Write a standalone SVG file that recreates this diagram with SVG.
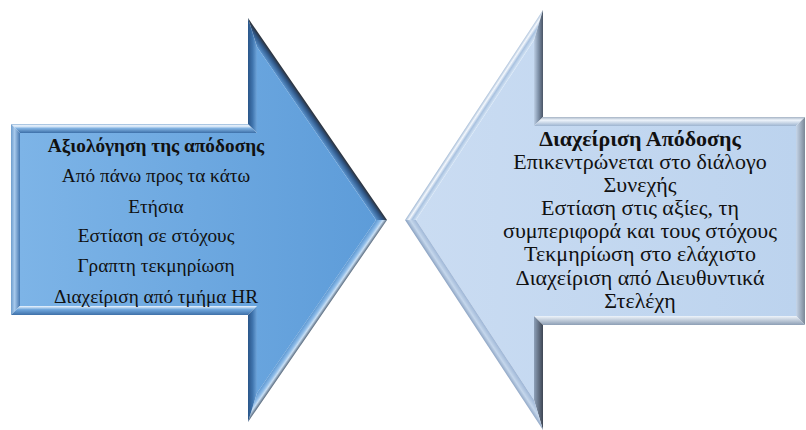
<svg xmlns="http://www.w3.org/2000/svg" width="806" height="430" viewBox="0 0 806 430">
  <style>
    .t { font-family: "Liberation Serif", "Times New Roman", serif; fill: #111; text-anchor: middle; }
    .l { font-size: 19.3px; }
    .r { font-size: 22px; }
    .b { font-weight: bold; }
  </style>
  <defs>
    <!-- left arrow (darker blue) -->
    <linearGradient id="lFill" x1="20" y1="0" x2="376" y2="0" gradientUnits="userSpaceOnUse">
      <stop offset="0" stop-color="#7db4e7"/>
      <stop offset="1" stop-color="#5d9cd9"/>
    </linearGradient>
    <linearGradient id="lTop" x1="0" y1="124" x2="0" y2="133" gradientUnits="userSpaceOnUse">
      <stop offset="0" stop-color="#8fb4d8"/>
      <stop offset="0.2" stop-color="#f2f8ff"/>
      <stop offset="0.5" stop-color="#7fb0e0"/>
      <stop offset="1" stop-color="#3c6fa8"/>
    </linearGradient>
    <linearGradient id="lLeft" x1="11" y1="0" x2="20" y2="0" gradientUnits="userSpaceOnUse">
      <stop offset="0" stop-color="#6d9ccc"/>
      <stop offset="0.4" stop-color="#a7c9ec"/>
      <stop offset="1" stop-color="#4577b0"/>
    </linearGradient>
    <linearGradient id="lBot" x1="0" y1="315" x2="0" y2="306" gradientUnits="userSpaceOnUse">
      <stop offset="0" stop-color="#3e70a8"/>
      <stop offset="0.6" stop-color="#6fa6dc"/>
      <stop offset="1" stop-color="#eef6fe"/>
    </linearGradient>
    <linearGradient id="lNotch" x1="248" y1="0" x2="257" y2="0" gradientUnits="userSpaceOnUse">
      <stop offset="0" stop-color="#2a5588"/>
      <stop offset="0.5" stop-color="#3f74ad"/>
      <stop offset="1" stop-color="#6ea5db"/>
    </linearGradient>
    <linearGradient id="lUpper" x1="317.5" y1="119" x2="310.1" y2="124.1" gradientUnits="userSpaceOnUse">
      <stop offset="0" stop-color="#2b2f36"/>
      <stop offset="0.4" stop-color="#2f5686"/>
      <stop offset="1" stop-color="#5a94cf"/>
    </linearGradient>
    <linearGradient id="lLower" x1="317.5" y1="321" x2="310.1" y2="315.9" gradientUnits="userSpaceOnUse">
      <stop offset="0" stop-color="#56677a"/>
      <stop offset="0.35" stop-color="#c8dff5"/>
      <stop offset="0.6" stop-color="#8dbbe8"/>
      <stop offset="1" stop-color="#5d98d2"/>
    </linearGradient>

    <!-- right arrow (light blue) -->
    <linearGradient id="rFill" x1="416" y1="0" x2="796" y2="0" gradientUnits="userSpaceOnUse">
      <stop offset="0" stop-color="#cadcf2"/>
      <stop offset="1" stop-color="#bcd3ee"/>
    </linearGradient>
    <linearGradient id="rUpper" x1="474" y1="115" x2="481.5" y2="119.9" gradientUnits="userSpaceOnUse">
      <stop offset="0" stop-color="#a9bfd9"/>
      <stop offset="0.3" stop-color="#f4f8fd"/>
      <stop offset="0.6" stop-color="#a9c2e0"/>
      <stop offset="1" stop-color="#d4e4f5"/>
    </linearGradient>
    <linearGradient id="rNotch" x1="543" y1="0" x2="534" y2="0" gradientUnits="userSpaceOnUse">
      <stop offset="0" stop-color="#4a5566"/>
      <stop offset="0.5" stop-color="#7f91a8"/>
      <stop offset="1" stop-color="#bccee4"/>
    </linearGradient>
    <linearGradient id="rTop" x1="0" y1="117" x2="0" y2="126" gradientUnits="userSpaceOnUse">
      <stop offset="0" stop-color="#a5b3c4"/>
      <stop offset="0.35" stop-color="#eef4fb"/>
      <stop offset="1" stop-color="#9db4d0"/>
    </linearGradient>
    <linearGradient id="rRight" x1="805" y1="0" x2="796" y2="0" gradientUnits="userSpaceOnUse">
      <stop offset="0" stop-color="#7b8796"/>
      <stop offset="1" stop-color="#c6d6ea"/>
    </linearGradient>
    <linearGradient id="rBot" x1="0" y1="325" x2="0" y2="316" gradientUnits="userSpaceOnUse">
      <stop offset="0" stop-color="#8d9fb5"/>
      <stop offset="1" stop-color="#eef4fb"/>
    </linearGradient>
    <linearGradient id="rNotchLow" x1="543" y1="0" x2="534" y2="0" gradientUnits="userSpaceOnUse">
      <stop offset="0" stop-color="#3e4654"/>
      <stop offset="1" stop-color="#8da0b8"/>
    </linearGradient>
    <linearGradient id="rLower" x1="474" y1="325" x2="481.5" y2="320.1" gradientUnits="userSpaceOnUse">
      <stop offset="0" stop-color="#8ea5c4"/>
      <stop offset="0.45" stop-color="#c5d7ec"/>
      <stop offset="1" stop-color="#9eb6d6"/>
    </linearGradient>
  </defs>

  <!-- left block arrow pointing right -->
  <g id="appraisal">
    <polygon points="20,133 257,133 257,47 376,220 257,393 257,306 20,306" fill="url(#lFill)"/>
    <polygon points="11,124 248,124 257,133 20,133" fill="url(#lTop)"/>
    <polygon points="11,124 20,133 20,306 11,315" fill="url(#lLeft)"/>
    <polygon points="11,315 20,306 257,306 248,315" fill="url(#lBot)"/>
    <polygon points="248,124 248,18 257,47 257,133" fill="url(#lNotch)"/>
    <polygon points="248,18 387,220 376,220 257,47" fill="url(#lUpper)"/>
    <polygon points="387,220 248,422 257,393 376,220" fill="url(#lLower)"/>
    <polygon points="248,315 257,306 257,393 248,422" fill="url(#lNotch)"/>
    <text class="t l b" x="156" y="152">Αξιολόγηση της απόδοσης</text>
    <text class="t l" x="156" y="182">Από πάνω προς τα κάτω</text>
    <text class="t l" x="156" y="212.5">Ετήσια</text>
    <text class="t l" x="156" y="242">Εστίαση σε στόχους</text>
    <text class="t l" x="156" y="272">Γραπτη τεκμηρίωση</text>
    <text class="t l" x="156" y="303">Διαχείριση από τμήμα HR</text>
  </g>

  <!-- right block arrow pointing left -->
  <g id="management">
    <polygon points="416,220 534,40 534,126 796,126 796,316 534,316 534,400" fill="url(#rFill)"/>
    <polygon points="405,220 543,10 534,40 416,220" fill="url(#rUpper)"/>
    <polygon points="543,10 543,117 534,126 534,40" fill="url(#rNotch)"/>
    <polygon points="543,117 805,117 796,126 534,126" fill="url(#rTop)"/>
    <polygon points="805,117 805,325 796,316 796,126" fill="url(#rRight)"/>
    <polygon points="805,325 543,325 534,316 796,316" fill="url(#rBot)"/>
    <polygon points="543,325 543,430 534,400 534,316" fill="url(#rNotchLow)"/>
    <polygon points="543,430 405,220 416,220 534,400" fill="url(#rLower)"/>
    <text class="t r b" x="640" y="145.5">Διαχείριση Απόδοσης</text>
    <text class="t r" x="640" y="168.5">Επικεντρώνεται στο διάλογο</text>
    <text class="t r" x="640" y="191.5">Συνεχής</text>
    <text class="t r" x="640" y="214.8">Εστίαση στις αξίες, τη</text>
    <text class="t r" x="640" y="238">συμπεριφορά και τους στόχους</text>
    <text class="t r" x="640" y="261.3">Τεκμηρίωση στο ελάχιστο</text>
    <text class="t r" x="640" y="284.5">Διαχείριση από Διευθυντικά</text>
    <text class="t r" x="640" y="307.5">Στελέχη</text>
  </g>
</svg>
